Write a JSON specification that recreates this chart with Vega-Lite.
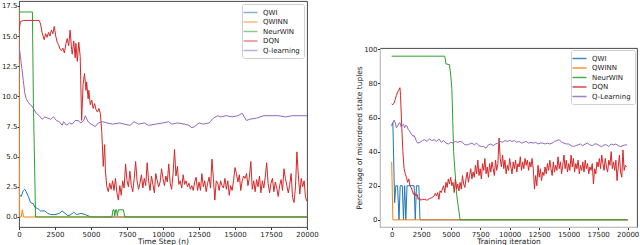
{
"$schema": "https://vega.github.io/schema/vega-lite/v6.json",
"padding": 0,
"autosize": {"type": "pad"},
"spacing": 35,
"config": {
  "font": "DejaVu Sans",
  "view": {"stroke": "#333", "strokeWidth": 0.9},
  "axis": {"labelFont": "DejaVu Sans", "labelFontSize": 7, "labelColor": "#222", "titleFont": "DejaVu Sans", "titleFontSize": 7.5, "titleFontWeight": "normal", "titleColor": "#222", "tickSize": 2.5, "tickColor": "#333", "labelPadding": 0.5, "titlePadding": 0.5, "grid": false, "labelFlush": false, "domain": false},
  "legend": {"orient": "top-right", "title": null, "labelFont": "DejaVu Sans", "labelFontSize": 7, "labelColor": "#222", "symbolType": "M-2,0H2", "symbolSize": 49, "symbolStrokeWidth": 1.5, "labelOffset": 8, "rowPadding": 1.5, "padding": 4, "fillColor": "white", "strokeColor": "#d0d0d0", "cornerRadius": 2}
},
"datasets": {
"L": [
{"s":"QWI","x":0,"y":1.9},{"s":"QWI","x":150,"y":1.7},{"s":"QWI","x":300,"y":2.2},{"s":"QWI","x":400,"y":2.3},{"s":"QWI","x":500,"y":2.1},{"s":"QWI","x":650,"y":1.7},{"s":"QWI","x":800,"y":1.2},{"s":"QWI","x":1000,"y":1.1},{"s":"QWI","x":1100,"y":0.8},{"s":"QWI","x":1300,"y":0.7},{"s":"QWI","x":1500,"y":0.5},{"s":"QWI","x":1800,"y":0.5},{"s":"QWI","x":2000,"y":0.3},{"s":"QWI","x":2200,"y":0.2},{"s":"QWI","x":2500,"y":0.2},{"s":"QWI","x":2800,"y":0.3},{"s":"QWI","x":3000,"y":0.5},{"s":"QWI","x":3200,"y":0.3},{"s":"QWI","x":3400,"y":0.1},{"s":"QWI","x":3600,"y":0.2},{"s":"QWI","x":3800,"y":0.4},{"s":"QWI","x":4000,"y":0.2},{"s":"QWI","x":4300,"y":0.3},{"s":"QWI","x":4600,"y":0.2},{"s":"QWI","x":4800,"y":0.1},{"s":"QWI","x":5000,"y":0},{"s":"QWI","x":20000,"y":0},
{"s":"QWINN","x":0,"y":17.4},{"s":"QWINN","x":40,"y":0},{"s":"QWINN","x":150,"y":0},{"s":"QWINN","x":230,"y":0.6},{"s":"QWINN","x":320,"y":0},{"s":"QWINN","x":20000,"y":0},
{"s":"NeurWIN","x":0,"y":17.0},{"s":"NeurWIN","x":930,"y":17.0},{"s":"NeurWIN","x":1000,"y":9.5},{"s":"NeurWIN","x":1150,"y":0},{"s":"NeurWIN","x":6450,"y":0},{"s":"NeurWIN","x":6530,"y":0.6},{"s":"NeurWIN","x":6600,"y":0.6},{"s":"NeurWIN","x":6650,"y":0.1},{"s":"NeurWIN","x":6720,"y":0.6},{"s":"NeurWIN","x":6780,"y":0.6},{"s":"NeurWIN","x":6830,"y":0.1},{"s":"NeurWIN","x":6900,"y":0.6},{"s":"NeurWIN","x":7250,"y":0.6},{"s":"NeurWIN","x":7350,"y":0},{"s":"NeurWIN","x":20000,"y":0},
{"s":"DQN","x":0,"y":15.5},{"s":"DQN","x":100,"y":16.2},{"s":"DQN","x":300,"y":16.3},{"s":"DQN","x":1400,"y":16.3},{"s":"DQN","x":1500,"y":16.0},{"s":"DQN","x":1600,"y":15.3},{"s":"DQN","x":1750,"y":14.7},{"s":"DQN","x":1850,"y":15.2},{"s":"DQN","x":1950,"y":14.9},{"s":"DQN","x":2050,"y":15.3},{"s":"DQN","x":2150,"y":15.0},{"s":"DQN","x":2250,"y":15.5},{"s":"DQN","x":2350,"y":15.2},{"s":"DQN","x":2450,"y":15.8},{"s":"DQN","x":2550,"y":15.0},{"s":"DQN","x":2650,"y":14.5},{"s":"DQN","x":2750,"y":14.3},{"s":"DQN","x":2850,"y":13.9},{"s":"DQN","x":2950,"y":13.8},{"s":"DQN","x":3050,"y":14.0},{"s":"DQN","x":3150,"y":13.6},{"s":"DQN","x":3250,"y":14.3},{"s":"DQN","x":3350,"y":14.8},{"s":"DQN","x":3450,"y":14.2},{"s":"DQN","x":3550,"y":15.5},{"s":"DQN","x":3650,"y":13.9},{"s":"DQN","x":3700,"y":13.5},{"s":"DQN","x":3800,"y":14.6},{"s":"DQN","x":3900,"y":13.2},{"s":"DQN","x":3950,"y":14.4},{"s":"DQN","x":4050,"y":12.9},{"s":"DQN","x":4150,"y":14.5},{"s":"DQN","x":4250,"y":13.3},{"s":"DQN","x":4350,"y":8.0},{"s":"DQN","x":4450,"y":11.0},{"s":"DQN","x":4550,"y":11.9},{"s":"DQN","x":4650,"y":10.5},{"s":"DQN","x":4700,"y":11.2},{"s":"DQN","x":4800,"y":9.8},{"s":"DQN","x":4850,"y":10.5},{"s":"DQN","x":4950,"y":9.3},{"s":"DQN","x":5050,"y":9.7},{"s":"DQN","x":5150,"y":9.0},{"s":"DQN","x":5250,"y":9.4},{"s":"DQN","x":5350,"y":8.9},{"s":"DQN","x":5450,"y":8.7},{"s":"DQN","x":5550,"y":9.0},{"s":"DQN","x":5650,"y":8.6},{"s":"DQN","x":5750,"y":7.0},{"s":"DQN","x":5850,"y":4.2},{"s":"DQN","x":5950,"y":6.0},{"s":"DQN","x":6000,"y":3.8},{"s":"DQN","x":6100,"y":2.5},{"s":"DQN","x":6200,"y":2.1},{"s":"DQN","x":6300,"y":2.8},{"s":"DQN","x":6400,"y":2.3},{"s":"DQN","x":6500,"y":3.0},{"s":"DQN","x":6600,"y":2.2},{"s":"DQN","x":6700,"y":3.2},{"s":"DQN","x":6800,"y":2.0},{"s":"DQN","x":6900,"y":1.4},{"s":"DQN","x":7000,"y":2.6},{"s":"DQN","x":7100,"y":1.8},{"s":"DQN","x":7200,"y":3.0},{"s":"DQN","x":7300,"y":2.4},{"s":"DQN","x":7400,"y":4.4},{"s":"DQN","x":7500,"y":3.0},{"s":"DQN","x":7600,"y":2.5},{"s":"DQN","x":7700,"y":3.8},{"s":"DQN","x":7800,"y":2.6},{"s":"DQN","x":7900,"y":2.1},{"s":"DQN","x":8000,"y":3.2},{"s":"DQN","x":8100,"y":4.6},{"s":"DQN","x":8200,"y":3.0},{"s":"DQN","x":8300,"y":2.3},{"s":"DQN","x":8400,"y":2.8},{"s":"DQN","x":8500,"y":3.5},{"s":"DQN","x":8600,"y":2.4},{"s":"DQN","x":8700,"y":3.2},{"s":"DQN","x":8800,"y":2.6},{"s":"DQN","x":8900,"y":4.5},{"s":"DQN","x":9000,"y":3.0},{"s":"DQN","x":9100,"y":2.2},{"s":"DQN","x":9200,"y":3.4},{"s":"DQN","x":9300,"y":2.7},{"s":"DQN","x":9400,"y":2.0},{"s":"DQN","x":9500,"y":3.6},{"s":"DQN","x":9600,"y":3.0},{"s":"DQN","x":9700,"y":2.5},{"s":"DQN","x":9800,"y":2.9},{"s":"DQN","x":9900,"y":4.0},{"s":"DQN","x":10000,"y":3.2},{"s":"DQN","x":10100,"y":2.6},{"s":"DQN","x":10200,"y":3.4},{"s":"DQN","x":10300,"y":2.9},{"s":"DQN","x":10400,"y":4.4},{"s":"DQN","x":10500,"y":2.8},{"s":"DQN","x":10600,"y":2.3},{"s":"DQN","x":10700,"y":3.6},{"s":"DQN","x":10800,"y":5.6},{"s":"DQN","x":10900,"y":3.4},{"s":"DQN","x":11000,"y":4.2},{"s":"DQN","x":11100,"y":2.7},{"s":"DQN","x":11200,"y":3.0},{"s":"DQN","x":11300,"y":2.4},{"s":"DQN","x":11400,"y":3.5},{"s":"DQN","x":11500,"y":2.7},{"s":"DQN","x":11600,"y":3.0},{"s":"DQN","x":11700,"y":2.5},{"s":"DQN","x":11800,"y":2.8},{"s":"DQN","x":11900,"y":2.3},{"s":"DQN","x":12000,"y":2.6},{"s":"DQN","x":12100,"y":2.2},{"s":"DQN","x":12200,"y":2.9},{"s":"DQN","x":12300,"y":3.3},{"s":"DQN","x":12400,"y":2.2},{"s":"DQN","x":12500,"y":2.9},{"s":"DQN","x":12600,"y":2.2},{"s":"DQN","x":12700,"y":3.6},{"s":"DQN","x":12800,"y":2.5},{"s":"DQN","x":12900,"y":3.0},{"s":"DQN","x":13000,"y":2.1},{"s":"DQN","x":13100,"y":2.8},{"s":"DQN","x":13200,"y":3.3},{"s":"DQN","x":13300,"y":2.4},{"s":"DQN","x":13400,"y":4.8},{"s":"DQN","x":13500,"y":3.2},{"s":"DQN","x":13600,"y":1.4},{"s":"DQN","x":13700,"y":3.0},{"s":"DQN","x":13800,"y":2.8},{"s":"DQN","x":13900,"y":2.2},{"s":"DQN","x":14000,"y":3.0},{"s":"DQN","x":14100,"y":2.6},{"s":"DQN","x":14200,"y":2.4},{"s":"DQN","x":14300,"y":3.2},{"s":"DQN","x":14400,"y":2.3},{"s":"DQN","x":14500,"y":3.0},{"s":"DQN","x":14600,"y":1.8},{"s":"DQN","x":14700,"y":2.6},{"s":"DQN","x":14800,"y":2.2},{"s":"DQN","x":14900,"y":3.0},{"s":"DQN","x":15000,"y":4.1},{"s":"DQN","x":15100,"y":3.6},{"s":"DQN","x":15200,"y":2.9},{"s":"DQN","x":15300,"y":3.5},{"s":"DQN","x":15400,"y":2.2},{"s":"DQN","x":15500,"y":3.0},{"s":"DQN","x":15600,"y":3.4},{"s":"DQN","x":15700,"y":3.2},{"s":"DQN","x":15800,"y":3.6},{"s":"DQN","x":15900,"y":2.6},{"s":"DQN","x":16000,"y":3.3},{"s":"DQN","x":16100,"y":4.6},{"s":"DQN","x":16200,"y":2.3},{"s":"DQN","x":16300,"y":3.0},{"s":"DQN","x":16400,"y":2.1},{"s":"DQN","x":16500,"y":3.1},{"s":"DQN","x":16600,"y":2.5},{"s":"DQN","x":16700,"y":3.4},{"s":"DQN","x":16800,"y":2.0},{"s":"DQN","x":16900,"y":3.0},{"s":"DQN","x":17000,"y":2.4},{"s":"DQN","x":17100,"y":3.3},{"s":"DQN","x":17200,"y":4.5},{"s":"DQN","x":17300,"y":2.8},{"s":"DQN","x":17400,"y":2.0},{"s":"DQN","x":17500,"y":2.8},{"s":"DQN","x":17600,"y":3.2},{"s":"DQN","x":17700,"y":2.1},{"s":"DQN","x":17800,"y":2.9},{"s":"DQN","x":17900,"y":2.4},{"s":"DQN","x":18000,"y":1.7},{"s":"DQN","x":18100,"y":2.6},{"s":"DQN","x":18200,"y":3.1},{"s":"DQN","x":18300,"y":2.2},{"s":"DQN","x":18400,"y":4.0},{"s":"DQN","x":18500,"y":3.2},{"s":"DQN","x":18600,"y":2.6},{"s":"DQN","x":18700,"y":2.0},{"s":"DQN","x":18800,"y":2.7},{"s":"DQN","x":18900,"y":3.6},{"s":"DQN","x":19000,"y":1.6},{"s":"DQN","x":19100,"y":1.2},{"s":"DQN","x":19200,"y":2.5},{"s":"DQN","x":19300,"y":5.4},{"s":"DQN","x":19400,"y":3.4},{"s":"DQN","x":19500,"y":1.9},{"s":"DQN","x":19600,"y":3.2},{"s":"DQN","x":19700,"y":2.5},{"s":"DQN","x":19800,"y":3.0},{"s":"DQN","x":19900,"y":1.6},{"s":"DQN","x":20000,"y":1.3},
{"s":"Q-learning","x":0,"y":14.2},{"s":"Q-learning","x":100,"y":13.3},{"s":"Q-learning","x":200,"y":12.3},{"s":"Q-learning","x":300,"y":11.3},{"s":"Q-learning","x":400,"y":10.3},{"s":"Q-learning","x":500,"y":9.8},{"s":"Q-learning","x":700,"y":9.4},{"s":"Q-learning","x":900,"y":9.2},{"s":"Q-learning","x":1000,"y":9.0},{"s":"Q-learning","x":1200,"y":8.6},{"s":"Q-learning","x":1400,"y":8.4},{"s":"Q-learning","x":1600,"y":8.1},{"s":"Q-learning","x":1800,"y":8.3},{"s":"Q-learning","x":2000,"y":8.2},{"s":"Q-learning","x":2200,"y":8.1},{"s":"Q-learning","x":2400,"y":8.3},{"s":"Q-learning","x":2600,"y":8.0},{"s":"Q-learning","x":2800,"y":7.9},{"s":"Q-learning","x":3000,"y":7.6},{"s":"Q-learning","x":3100,"y":7.9},{"s":"Q-learning","x":3300,"y":7.6},{"s":"Q-learning","x":3500,"y":7.8},{"s":"Q-learning","x":3700,"y":7.7},{"s":"Q-learning","x":3900,"y":8.0},{"s":"Q-learning","x":4100,"y":8.0},{"s":"Q-learning","x":4300,"y":7.8},{"s":"Q-learning","x":4500,"y":8.0},{"s":"Q-learning","x":4600,"y":8.4},{"s":"Q-learning","x":4800,"y":7.9},{"s":"Q-learning","x":5000,"y":7.7},{"s":"Q-learning","x":5300,"y":7.5},{"s":"Q-learning","x":5500,"y":7.8},{"s":"Q-learning","x":5800,"y":7.9},{"s":"Q-learning","x":6100,"y":7.8},{"s":"Q-learning","x":6500,"y":7.7},{"s":"Q-learning","x":7000,"y":7.8},{"s":"Q-learning","x":7300,"y":7.7},{"s":"Q-learning","x":7700,"y":7.6},{"s":"Q-learning","x":8000,"y":7.9},{"s":"Q-learning","x":8300,"y":7.7},{"s":"Q-learning","x":8700,"y":7.8},{"s":"Q-learning","x":9000,"y":7.6},{"s":"Q-learning","x":9500,"y":7.7},{"s":"Q-learning","x":10000,"y":7.8},{"s":"Q-learning","x":10400,"y":7.9},{"s":"Q-learning","x":10600,"y":7.7},{"s":"Q-learning","x":11000,"y":7.8},{"s":"Q-learning","x":11500,"y":7.7},{"s":"Q-learning","x":11800,"y":7.6},{"s":"Q-learning","x":12000,"y":7.4},{"s":"Q-learning","x":12200,"y":7.5},{"s":"Q-learning","x":12500,"y":7.8},{"s":"Q-learning","x":12800,"y":7.7},{"s":"Q-learning","x":13200,"y":7.8},{"s":"Q-learning","x":13500,"y":8.2},{"s":"Q-learning","x":13800,"y":8.4},{"s":"Q-learning","x":14000,"y":8.3},{"s":"Q-learning","x":14400,"y":8.4},{"s":"Q-learning","x":14800,"y":8.3},{"s":"Q-learning","x":15200,"y":8.4},{"s":"Q-learning","x":15500,"y":8.6},{"s":"Q-learning","x":15800,"y":8.0},{"s":"Q-learning","x":16000,"y":8.1},{"s":"Q-learning","x":16500,"y":8.2},{"s":"Q-learning","x":17000,"y":8.4},{"s":"Q-learning","x":17500,"y":8.4},{"s":"Q-learning","x":18000,"y":8.4},{"s":"Q-learning","x":18500,"y":8.3},{"s":"Q-learning","x":19000,"y":8.4},{"s":"Q-learning","x":19500,"y":8.4},{"s":"Q-learning","x":20000,"y":8.4}
],
"R": [
{"s":"QWI","x":0,"y":55},{"s":"QWI","x":100,"y":57},{"s":"QWI","x":250,"y":10},{"s":"QWI","x":350,"y":20},{"s":"QWI","x":500,"y":20},{"s":"QWI","x":620,"y":0},{"s":"QWI","x":720,"y":20},{"s":"QWI","x":900,"y":20},{"s":"QWI","x":1000,"y":0},{"s":"QWI","x":1100,"y":20},{"s":"QWI","x":1200,"y":0},{"s":"QWI","x":1300,"y":20},{"s":"QWI","x":1900,"y":20},{"s":"QWI","x":2000,"y":0},{"s":"QWI","x":2100,"y":20},{"s":"QWI","x":2300,"y":20},{"s":"QWI","x":2400,"y":0},{"s":"QWI","x":20000,"y":0},
{"s":"QWINN","x":0,"y":34},{"s":"QWINN","x":100,"y":0},{"s":"QWINN","x":20000,"y":0},
{"s":"NeurWIN","x":0,"y":96},{"s":"NeurWIN","x":4500,"y":96},{"s":"NeurWIN","x":4600,"y":91.5},{"s":"NeurWIN","x":4900,"y":91},{"s":"NeurWIN","x":5000,"y":85},{"s":"NeurWIN","x":5100,"y":77},{"s":"NeurWIN","x":5250,"y":40},{"s":"NeurWIN","x":5500,"y":15},{"s":"NeurWIN","x":5800,"y":0},{"s":"NeurWIN","x":20000,"y":0},
{"s":"DQN","x":0,"y":68},{"s":"DQN","x":100,"y":67.5},{"s":"DQN","x":200,"y":68.5},{"s":"DQN","x":300,"y":70.5},{"s":"DQN","x":400,"y":73},{"s":"DQN","x":500,"y":75},{"s":"DQN","x":600,"y":76},{"s":"DQN","x":700,"y":77.5},{"s":"DQN","x":750,"y":73},{"s":"DQN","x":850,"y":55},{"s":"DQN","x":950,"y":40},{"s":"DQN","x":1050,"y":30},{"s":"DQN","x":1150,"y":27},{"s":"DQN","x":1250,"y":25},{"s":"DQN","x":1350,"y":22},{"s":"DQN","x":1450,"y":24},{"s":"DQN","x":1550,"y":20},{"s":"DQN","x":1650,"y":19},{"s":"DQN","x":1750,"y":17},{"s":"DQN","x":1850,"y":15},{"s":"DQN","x":1950,"y":16},{"s":"DQN","x":2050,"y":14},{"s":"DQN","x":2150,"y":15},{"s":"DQN","x":2250,"y":12},{"s":"DQN","x":2350,"y":13},{"s":"DQN","x":2450,"y":11.5},{"s":"DQN","x":2600,"y":12},{"s":"DQN","x":2800,"y":12},{"s":"DQN","x":3000,"y":11.5},{"s":"DQN","x":3200,"y":12.5},{"s":"DQN","x":3400,"y":13},{"s":"DQN","x":3600,"y":14},{"s":"DQN","x":3700,"y":15.5},{"s":"DQN","x":3800,"y":14},{"s":"DQN","x":3900,"y":16},{"s":"DQN","x":4000,"y":12},{"s":"DQN","x":4100,"y":17},{"s":"DQN","x":4200,"y":16},{"s":"DQN","x":4300,"y":18},{"s":"DQN","x":4400,"y":20},{"s":"DQN","x":4500,"y":16},{"s":"DQN","x":4600,"y":22},{"s":"DQN","x":4700,"y":19},{"s":"DQN","x":4800,"y":24},{"s":"DQN","x":4900,"y":21},{"s":"DQN","x":5000,"y":25},{"s":"DQN","x":5100,"y":20},{"s":"DQN","x":5200,"y":22},{"s":"DQN","x":5300,"y":16},{"s":"DQN","x":5400,"y":24},{"s":"DQN","x":5500,"y":18},{"s":"DQN","x":5600,"y":21},{"s":"DQN","x":5700,"y":17},{"s":"DQN","x":5800,"y":22},{"s":"DQN","x":5900,"y":18},{"s":"DQN","x":6000,"y":26},{"s":"DQN","x":6100,"y":21},{"s":"DQN","x":6200,"y":19},{"s":"DQN","x":6300,"y":24},{"s":"DQN","x":6400,"y":28},{"s":"DQN","x":6500,"y":22},{"s":"DQN","x":6600,"y":26},{"s":"DQN","x":6700,"y":30},{"s":"DQN","x":6800,"y":24},{"s":"DQN","x":6900,"y":28},{"s":"DQN","x":7000,"y":25},{"s":"DQN","x":7100,"y":32},{"s":"DQN","x":7200,"y":27},{"s":"DQN","x":7300,"y":35},{"s":"DQN","x":7400,"y":26},{"s":"DQN","x":7500,"y":30},{"s":"DQN","x":7600,"y":24},{"s":"DQN","x":7700,"y":33},{"s":"DQN","x":7800,"y":29},{"s":"DQN","x":7900,"y":36},{"s":"DQN","x":8000,"y":27},{"s":"DQN","x":8100,"y":31},{"s":"DQN","x":8200,"y":25},{"s":"DQN","x":8300,"y":33},{"s":"DQN","x":8400,"y":28},{"s":"DQN","x":8500,"y":34},{"s":"DQN","x":8600,"y":30},{"s":"DQN","x":8700,"y":26},{"s":"DQN","x":8800,"y":35},{"s":"DQN","x":8900,"y":29},{"s":"DQN","x":9000,"y":33},{"s":"DQN","x":9100,"y":48},{"s":"DQN","x":9200,"y":36},{"s":"DQN","x":9300,"y":31},{"s":"DQN","x":9400,"y":38},{"s":"DQN","x":9500,"y":30},{"s":"DQN","x":9600,"y":35},{"s":"DQN","x":9700,"y":27},{"s":"DQN","x":9800,"y":32},{"s":"DQN","x":9900,"y":29},{"s":"DQN","x":10000,"y":36},{"s":"DQN","x":10100,"y":31},{"s":"DQN","x":10200,"y":27},{"s":"DQN","x":10300,"y":34},{"s":"DQN","x":10400,"y":30},{"s":"DQN","x":10500,"y":35},{"s":"DQN","x":10600,"y":28},{"s":"DQN","x":10700,"y":33},{"s":"DQN","x":10800,"y":31},{"s":"DQN","x":10900,"y":37},{"s":"DQN","x":11000,"y":29},{"s":"DQN","x":11100,"y":34},{"s":"DQN","x":11200,"y":30},{"s":"DQN","x":11300,"y":36},{"s":"DQN","x":11400,"y":32},{"s":"DQN","x":11500,"y":35},{"s":"DQN","x":11600,"y":29},{"s":"DQN","x":11700,"y":34},{"s":"DQN","x":11800,"y":31},{"s":"DQN","x":11900,"y":36},{"s":"DQN","x":12000,"y":30},{"s":"DQN","x":12100,"y":18},{"s":"DQN","x":12200,"y":26},{"s":"DQN","x":12300,"y":20},{"s":"DQN","x":12400,"y":32},{"s":"DQN","x":12500,"y":25},{"s":"DQN","x":12600,"y":30},{"s":"DQN","x":12700,"y":23},{"s":"DQN","x":12800,"y":28},{"s":"DQN","x":12900,"y":26},{"s":"DQN","x":13000,"y":31},{"s":"DQN","x":13100,"y":27},{"s":"DQN","x":13200,"y":33},{"s":"DQN","x":13300,"y":29},{"s":"DQN","x":13400,"y":35},{"s":"DQN","x":13500,"y":30},{"s":"DQN","x":13600,"y":26},{"s":"DQN","x":13700,"y":34},{"s":"DQN","x":13800,"y":28},{"s":"DQN","x":13900,"y":32},{"s":"DQN","x":14000,"y":29},{"s":"DQN","x":14100,"y":37},{"s":"DQN","x":14200,"y":30},{"s":"DQN","x":14300,"y":34},{"s":"DQN","x":14400,"y":27},{"s":"DQN","x":14500,"y":32},{"s":"DQN","x":14600,"y":38},{"s":"DQN","x":14700,"y":30},{"s":"DQN","x":14800,"y":35},{"s":"DQN","x":14900,"y":28},{"s":"DQN","x":15000,"y":33},{"s":"DQN","x":15100,"y":29},{"s":"DQN","x":15200,"y":38},{"s":"DQN","x":15300,"y":31},{"s":"DQN","x":15400,"y":36},{"s":"DQN","x":15500,"y":28},{"s":"DQN","x":15600,"y":33},{"s":"DQN","x":15700,"y":30},{"s":"DQN","x":15800,"y":35},{"s":"DQN","x":15900,"y":27},{"s":"DQN","x":16000,"y":32},{"s":"DQN","x":16100,"y":29},{"s":"DQN","x":16200,"y":34},{"s":"DQN","x":16300,"y":28},{"s":"DQN","x":16400,"y":35},{"s":"DQN","x":16500,"y":30},{"s":"DQN","x":16600,"y":33},{"s":"DQN","x":16700,"y":27},{"s":"DQN","x":16800,"y":31},{"s":"DQN","x":16900,"y":29},{"s":"DQN","x":17000,"y":33},{"s":"DQN","x":17100,"y":21},{"s":"DQN","x":17200,"y":30},{"s":"DQN","x":17300,"y":27},{"s":"DQN","x":17400,"y":34},{"s":"DQN","x":17500,"y":31},{"s":"DQN","x":17600,"y":36},{"s":"DQN","x":17700,"y":30},{"s":"DQN","x":17800,"y":38},{"s":"DQN","x":17900,"y":33},{"s":"DQN","x":18000,"y":29},{"s":"DQN","x":18100,"y":36},{"s":"DQN","x":18200,"y":31},{"s":"DQN","x":18300,"y":28},{"s":"DQN","x":18400,"y":35},{"s":"DQN","x":18500,"y":32},{"s":"DQN","x":18600,"y":40},{"s":"DQN","x":18700,"y":30},{"s":"DQN","x":18800,"y":34},{"s":"DQN","x":18900,"y":29},{"s":"DQN","x":19000,"y":35},{"s":"DQN","x":19100,"y":23},{"s":"DQN","x":19200,"y":31},{"s":"DQN","x":19300,"y":38},{"s":"DQN","x":19400,"y":28},{"s":"DQN","x":19500,"y":25},{"s":"DQN","x":19600,"y":41},{"s":"DQN","x":19700,"y":29},{"s":"DQN","x":19800,"y":32},{"s":"DQN","x":19900,"y":31},
{"s":"Q-Learning","x":0,"y":56},{"s":"Q-Learning","x":100,"y":57},{"s":"Q-Learning","x":200,"y":58.5},{"s":"Q-Learning","x":300,"y":57},{"s":"Q-Learning","x":400,"y":54},{"s":"Q-Learning","x":500,"y":55},{"s":"Q-Learning","x":600,"y":56.5},{"s":"Q-Learning","x":700,"y":57},{"s":"Q-Learning","x":800,"y":54.5},{"s":"Q-Learning","x":900,"y":55.5},{"s":"Q-Learning","x":1000,"y":56},{"s":"Q-Learning","x":1100,"y":54},{"s":"Q-Learning","x":1200,"y":55.5},{"s":"Q-Learning","x":1300,"y":55},{"s":"Q-Learning","x":1400,"y":53},{"s":"Q-Learning","x":1500,"y":52.5},{"s":"Q-Learning","x":1600,"y":51},{"s":"Q-Learning","x":1700,"y":50},{"s":"Q-Learning","x":1800,"y":49},{"s":"Q-Learning","x":1900,"y":49.5},{"s":"Q-Learning","x":2000,"y":48},{"s":"Q-Learning","x":2100,"y":46},{"s":"Q-Learning","x":2200,"y":45},{"s":"Q-Learning","x":2400,"y":45.5},{"s":"Q-Learning","x":2600,"y":46.5},{"s":"Q-Learning","x":2800,"y":47},{"s":"Q-Learning","x":3000,"y":46},{"s":"Q-Learning","x":3200,"y":47.5},{"s":"Q-Learning","x":3400,"y":46.5},{"s":"Q-Learning","x":3600,"y":47},{"s":"Q-Learning","x":3800,"y":46},{"s":"Q-Learning","x":4000,"y":47.5},{"s":"Q-Learning","x":4200,"y":45.5},{"s":"Q-Learning","x":4400,"y":46.5},{"s":"Q-Learning","x":4600,"y":45},{"s":"Q-Learning","x":4800,"y":44.5},{"s":"Q-Learning","x":5000,"y":45.5},{"s":"Q-Learning","x":5200,"y":45},{"s":"Q-Learning","x":5400,"y":46},{"s":"Q-Learning","x":5600,"y":45.5},{"s":"Q-Learning","x":5800,"y":46},{"s":"Q-Learning","x":6000,"y":45.5},{"s":"Q-Learning","x":6200,"y":44},{"s":"Q-Learning","x":6400,"y":44},{"s":"Q-Learning","x":6600,"y":44.5},{"s":"Q-Learning","x":6800,"y":45},{"s":"Q-Learning","x":7000,"y":44},{"s":"Q-Learning","x":7200,"y":45},{"s":"Q-Learning","x":7400,"y":43.5},{"s":"Q-Learning","x":7600,"y":43},{"s":"Q-Learning","x":7800,"y":43},{"s":"Q-Learning","x":8000,"y":42},{"s":"Q-Learning","x":8200,"y":44},{"s":"Q-Learning","x":8400,"y":44.5},{"s":"Q-Learning","x":8600,"y":43.5},{"s":"Q-Learning","x":8800,"y":44.5},{"s":"Q-Learning","x":9000,"y":45},{"s":"Q-Learning","x":9200,"y":46},{"s":"Q-Learning","x":9400,"y":45.5},{"s":"Q-Learning","x":9600,"y":46.5},{"s":"Q-Learning","x":9800,"y":46},{"s":"Q-Learning","x":10000,"y":46.5},{"s":"Q-Learning","x":10200,"y":46},{"s":"Q-Learning","x":10400,"y":46.5},{"s":"Q-Learning","x":10600,"y":45.5},{"s":"Q-Learning","x":10800,"y":46},{"s":"Q-Learning","x":11000,"y":45},{"s":"Q-Learning","x":11200,"y":45.5},{"s":"Q-Learning","x":11400,"y":46},{"s":"Q-Learning","x":11600,"y":45},{"s":"Q-Learning","x":11800,"y":45.5},{"s":"Q-Learning","x":12000,"y":45},{"s":"Q-Learning","x":12200,"y":45.5},{"s":"Q-Learning","x":12400,"y":44.5},{"s":"Q-Learning","x":12600,"y":45},{"s":"Q-Learning","x":12800,"y":45},{"s":"Q-Learning","x":13000,"y":44.5},{"s":"Q-Learning","x":13200,"y":45},{"s":"Q-Learning","x":13400,"y":44.5},{"s":"Q-Learning","x":13600,"y":45},{"s":"Q-Learning","x":13800,"y":46},{"s":"Q-Learning","x":14000,"y":46.5},{"s":"Q-Learning","x":14200,"y":47},{"s":"Q-Learning","x":14400,"y":45.5},{"s":"Q-Learning","x":14600,"y":45},{"s":"Q-Learning","x":14800,"y":44.5},{"s":"Q-Learning","x":15000,"y":44.5},{"s":"Q-Learning","x":15200,"y":43.5},{"s":"Q-Learning","x":15400,"y":43},{"s":"Q-Learning","x":15600,"y":43.5},{"s":"Q-Learning","x":15800,"y":44},{"s":"Q-Learning","x":16000,"y":44.5},{"s":"Q-Learning","x":16200,"y":43.5},{"s":"Q-Learning","x":16400,"y":44.5},{"s":"Q-Learning","x":16600,"y":45},{"s":"Q-Learning","x":16800,"y":44},{"s":"Q-Learning","x":17000,"y":43.5},{"s":"Q-Learning","x":17200,"y":44.5},{"s":"Q-Learning","x":17400,"y":44.5},{"s":"Q-Learning","x":17600,"y":43.5},{"s":"Q-Learning","x":17800,"y":43},{"s":"Q-Learning","x":18000,"y":44},{"s":"Q-Learning","x":18200,"y":44},{"s":"Q-Learning","x":18400,"y":43},{"s":"Q-Learning","x":18600,"y":44.5},{"s":"Q-Learning","x":18800,"y":44},{"s":"Q-Learning","x":19000,"y":44.5},{"s":"Q-Learning","x":19200,"y":43.5},{"s":"Q-Learning","x":19400,"y":43},{"s":"Q-Learning","x":19600,"y":43.5},{"s":"Q-Learning","x":19800,"y":44},{"s":"Q-Learning","x":19950,"y":44}
]
},
"resolve": {"scale": {"color": "independent"}, "legend": {"color": "independent"}},
"hconcat": [
{
  "width": 288, "height": 226,
  "data": {"name": "L"},
  "mark": {"type": "line", "strokeWidth": 1, "clip": true},
  "encoding": {
    "x": {"field": "x", "type": "quantitative", "scale": {"domain": [0, 20000], "nice": false, "zero": false},
      "axis": {"title": "Time Step (n)", "values": [0,2500,5000,7500,10000,12500,15000,17500,20000], "format": "d"}},
    "y": {"field": "y", "type": "quantitative", "scale": {"domain": [-0.83, 17.91], "nice": false, "zero": false},
      "axis": {"title": null, "values": [0,2.5,5,7.5,10,12.5,15,17.5], "format": ".1f", "labelPadding": 0, "tickSize": 2}},
    "color": {"field": "s", "type": "nominal",
      "scale": {"domain": ["QWI","QWINN","NeurWIN","DQN","Q-learning"], "range": ["#1f77b4","#ff7f0e","#2ca02c","#d62728","#9467bd"]},
      "legend": {"offset": 3, "symbolOpacity": 0.55}}
  }
},
{
  "spacing": 0,
  "resolve": {"scale": {"color": "independent"}, "legend": {"color": "independent"}},
  "vconcat": [
    {
      "width": 257, "height": 43,
      "view": {"stroke": null},
      "data": {"values": [{"s": "spacer"}]},
      "mark": {"type": "point", "opacity": 0},
      "encoding": {}
    },
    {
      "width": 257, "height": 179,
      "data": {"name": "R"},
      "mark": {"type": "line", "strokeWidth": 1, "clip": true},
      "encoding": {
        "x": {"field": "x", "type": "quantitative", "scale": {"domain": [-990, 20790], "nice": false, "zero": false},
          "axis": {"title": "Training iteration", "values": [0,2500,5000,7500,10000,12500,15000,17500,20000], "format": "d", "domain": true, "domainColor": "#c0c0c0"}},
        "y": {"field": "y", "type": "quantitative", "scale": {"domain": [-4.2, 100.8], "nice": false, "zero": false},
          "axis": {"title": "Percentage of misordered state tuples", "values": [0,20,40,60,80,100], "format": "d", "domain": true, "domainColor": "#c0c0c0"}},
        "color": {"field": "s", "type": "nominal",
          "scale": {"domain": ["QWI","QWINN","NeurWIN","DQN","Q-Learning"], "range": ["#1f77b4","#ff7f0e","#2ca02c","#d62728","#9467bd"]},
          "legend": {"offset": 2, "symbolOpacity": 0.85}}
      }
    }
  ]
}
]
}
